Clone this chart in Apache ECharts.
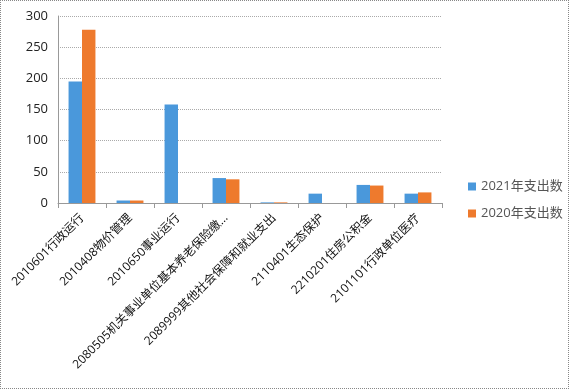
<!DOCTYPE html>
<html><head><meta charset="utf-8">
<script src="https://cdn.jsdelivr.net/npm/echarts@6/dist/echarts.min.js"></script>
<style>html,body{margin:0;padding:0;background:#fff}#c{width:569px;height:389px;box-sizing:border-box;border:1px dotted #888}</style>
</head><body><div id="c"></div>
<script>
const categories = ["2010601行政运行","2010408物价管理","2010650事业运行","2080505机关事业单位基本养老保险缴费支出","2089999其他社会保障和就业支出","2110401生态保护","2210201住房公积金","2101101行政单位医疗"];
const series2021 = [195, 4, 158, 40, 1, 15, 29, 15];
const series2020 = [278, 4, 0, 38, 1, 0, 28, 17];
const yTicks = [0, 50, 100, 150, 200, 250, 300];
const seriesNames = ["2021年支出数", "2020年支出数"];

const chart = echarts.init(document.getElementById('c'));
chart.setOption({
  animation: false,
  grid: {left: 57, right: 126, top: 15, bottom: 185},
  legend: {
    orient: 'vertical', left: 462, top: 174, itemWidth: 8, itemHeight: 8, itemGap: 14,
    icon: 'rect',
    textStyle: {fontSize: 13, color: '#555', fontFamily: 'Open Sans, Noto Sans CJK SC'},
    data: seriesNames
  },
  xAxis: {
    type: 'category', data: categories,
    axisLine: {lineStyle: {color: '#999'}},
    axisTick: {show: true, length: 5, lineStyle: {color: '#999'}},
    axisLabel: {
      rotate: 45, interval: 0, fontSize: 12, color: '#111', margin: 13,
      fontFamily: 'Open Sans, Noto Sans CJK SC',
      formatter: v => v.length > 21 ? v.slice(0, 20) + '…' : v
    }
  },
  yAxis: {
    type: 'value', min: yTicks[0], max: yTicks[yTicks.length-1], interval: 50,
    axisLine: {show: true, lineStyle: {color: '#999'}},
    axisTick: {show: false},
    axisLabel: {fontSize: 13, color: '#222', margin: 10, fontFamily: 'Open Sans, sans-serif'},
    splitLine: {lineStyle: {color: '#aaa', type: 'dotted'}}
  },
  series: [
    {name: seriesNames[0], type: 'bar', data: series2021, barWidth: '28%', barGap: '0%', itemStyle: {color: '#4A98DB'}},
    {name: seriesNames[1], type: 'bar', data: series2020, barWidth: '28%', itemStyle: {color: '#EE7A2D'}}
  ]
});
</script></body></html>
